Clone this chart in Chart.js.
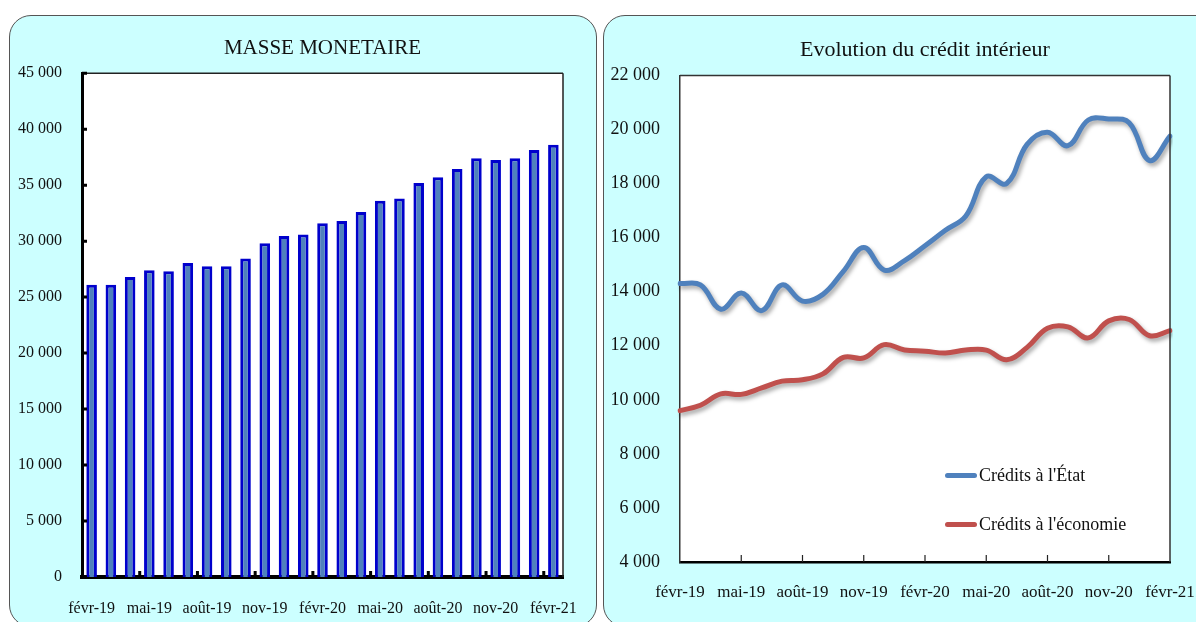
<!DOCTYPE html>
<html>
<head>
<meta charset="utf-8">
<script src="https://cdn.jsdelivr.net/npm/chart.js@4.4.1/dist/chart.umd.min.js"></script>
<style>
body{margin:0;background:#fff;width:1196px;height:622px;overflow:hidden;position:relative;font-family:"Liberation Serif",serif}
.panel{position:absolute;background:#ccffff;border:1px solid #555;border-radius:22px}
#p1{left:9px;top:15px;width:586px;height:610px}
#p2{left:603px;top:15px;width:620px;height:610px}
canvas{position:absolute}
#c1{left:9px;top:15px}
#c2{left:603px;top:15px}
.leg{position:absolute;left:945px;font-size:18px;line-height:22px;color:#111;white-space:nowrap}
.leg i{display:inline-block;width:32px;height:5px;border-radius:3px;vertical-align:middle;margin-right:2px;position:relative;top:-1px}
</style>
</head>
<body>
<div class="panel" id="p1"></div>
<div class="panel" id="p2"></div>
<canvas id="c1" width="588" height="607"></canvas>
<canvas id="c2" width="640" height="607"></canvas>
<div class="leg" style="top:464px"><i style="background:#4f81bd"></i>Crédits à l'État</div>
<div class="leg" style="top:513px"><i style="background:#c0504d"></i>Crédits à l'économie</div>
<script>
const months = ['févr-19','mars-19','avr-19','mai-19','juin-19','juil-19','août-19','sept-19','oct-19','nov-19','déc-19','janv-20',
  'févr-20','mars-20','avr-20','mai-20','juin-20','juil-20','août-20','sept-20','oct-20','nov-20','déc-20','janv-21','févr-21'];

const masseMonetaire = [26100, 26100, 26800, 27400, 27300, 28050, 27750, 27750, 28450, 29800, 30450, 30600,
  31600, 31800, 32600, 33600, 33800, 35200, 35700, 36450, 37400, 37250, 37400, 38150, 38600];

const creditsEtat = [14300, 14250, 13350, 13950, 13300, 14250, 13650, 13900, 14750, 15630, 14800, 15150,
  15700, 16270, 16800, 18250, 18000, 19450, 19900, 19400, 20350, 20390, 20250, 18850, 19750];

const creditsEconomie = [9600, 9800, 10220, 10200, 10440, 10690, 10740, 10960, 11570, 11550, 12040, 11840,
  11800, 11730, 11840, 11840, 11480, 11940, 12650, 12700, 12290, 12920, 12970, 12370, 12560];

Chart.defaults.font.family = '"Liberation Serif", serif';
Chart.defaults.color = '#111';

function fmt(v) {
  return String(v).replace(/\B(?=(\d{3})+(?!\d))/g, ' ');
}
function everyThird(v, i) {
  return i % 3 == 0 ? months[i] : '';
}

// white plot area + thin frame on the given sides
function frame(sides, color) {
  return {
    id: 'frame',
    beforeDraw(chart) {
      const a = chart.chartArea, ctx = chart.ctx;
      ctx.save();
      ctx.fillStyle = '#fff';
      ctx.fillRect(a.left, a.top, a.right - a.left, a.bottom - a.top);
      ctx.restore();
    },
    afterDraw(chart) {
      const a = chart.chartArea, ctx = chart.ctx;
      ctx.save();
      ctx.strokeStyle = color;
      ctx.lineWidth = 1.5;
      ctx.beginPath();
      if (sides.includes('top')) { ctx.moveTo(a.left, a.top); ctx.lineTo(a.right, a.top); }
      if (sides.includes('right')) { ctx.moveTo(a.right, a.top); ctx.lineTo(a.right, a.bottom); }
      ctx.stroke();
      ctx.restore();
    }
  };
}

const barTicks = {
  id: 'barTicks',
  afterDraw(chart) {
    const {ctx, chartArea: a, scales: {x, y}} = chart;
    ctx.save();
    ctx.strokeStyle = '#000';
    ctx.lineWidth = 3;
    ctx.beginPath();
    y.ticks.forEach((t, i) => {
      const py = y.getPixelForTick(i);
      ctx.moveTo(a.left, py); ctx.lineTo(a.left + 5, py);
    });
    for (let i = 3; i < months.length; i += 3) {
      const px = (x.getPixelForTick(i - 1) + x.getPixelForTick(i)) / 2;
      ctx.moveTo(px, a.bottom); ctx.lineTo(px, a.bottom - 6);
    }
    ctx.stroke();
    ctx.restore();
  }
};

const lineTicks = {
  id: 'lineTicks',
  afterDraw(chart) {
    const {ctx, chartArea: a, scales: {x}} = chart;
    ctx.save();
    ctx.strokeStyle = '#222';
    ctx.lineWidth = 1.2;
    ctx.beginPath();
    for (let i = 3; i < months.length - 1; i += 3) {
      const px = x.getPixelForTick(i);
      ctx.moveTo(px, a.bottom); ctx.lineTo(px, a.bottom - 7);
    }
    ctx.stroke();
    ctx.restore();
  }
};

const shadow = {
  id: 'shadow',
  beforeDatasetDraw(chart) {
    const c = chart.ctx;
    c.save();
    c.shadowColor = 'rgba(0,0,0,0.35)';
    c.shadowBlur = 4;
    c.shadowOffsetX = 2;
    c.shadowOffsetY = 3;
  },
  afterDatasetDraw(chart) {
    chart.ctx.restore();
  }
};

new Chart('c1', {
  type: 'bar',
  data: {
    labels: months,
    datasets: [{
      label: 'Masse monétaire',
      data: masseMonetaire,
      backgroundColor: '#4f81bd',
      borderColor: '#0000cc',
      borderWidth: 3,
      barPercentage: 0.55,
      categoryPercentage: 1
    }]
  },
  options: {
    responsive: false,
    animation: false,
    layout: {padding: {left: 0, right: 34, top: 0, bottom: 0}},
    plugins: {
      legend: {display: false},
      tooltip: {enabled: false},
      title: {
        display: true,
        fullSize: false,
        text: 'MASSE MONETAIRE',
        font: {size: 21, weight: 'normal'},
        color: '#111',
        padding: {top: 21, bottom: 12}
      }
    },
    scales: {
      x: {
        z: 1,
        grid: {display: false},
        border: {color: '#000', width: 4},
        ticks: {autoSkip: false, maxRotation: 0, padding: 14, font: {size: 16}, callback: everyThird},
        afterFit(s) { s.height = 45; }
      },
      y: {
        min: 0, max: 45000,
        grid: {display: false},
        border: {color: '#000', width: 3},
        ticks: {stepSize: 5000, padding: 12, font: {size: 16}, callback: fmt},
        afterFit(s) { s.width = 73; }
      }
    }
  },
  plugins: [frame(['top', 'right'], '#222'), barTicks]
});

new Chart('c2', {
  type: 'line',
  data: {
    labels: months,
    datasets: [{
      label: "Crédits à l'État",
      data: creditsEtat,
      borderColor: '#4f81bd',
      borderWidth: 5,
      pointRadius: 0,
      tension: 0.4,
      borderCapStyle: 'round'
    }, {
      label: "Crédits à l'économie",
      data: creditsEconomie,
      borderColor: '#c0504d',
      borderWidth: 5,
      pointRadius: 0,
      tension: 0.4,
      borderCapStyle: 'round'
    }]
  },
  options: {
    responsive: false,
    animation: false,
    layout: {padding: {left: 0, right: 73, top: 0, bottom: 0}},
    plugins: {
      legend: {display: false},
      tooltip: {enabled: false},
      title: {
        display: true,
        fullSize: false,
        text: 'Evolution du crédit intérieur',
        font: {size: 22, weight: 'normal'},
        color: '#111',
        padding: {top: 22, bottom: 12}
      }
    },
    scales: {
      x: {
        z: 1,
        grid: {display: false},
        border: {color: '#000', width: 2.5},
        ticks: {autoSkip: false, maxRotation: 0, padding: 12, font: {size: 17}, callback: everyThird},
        afterFit(s) { s.height = 60; }
      },
      y: {
        min: 4000, max: 22000,
        grid: {display: false},
        border: {color: '#333', width: 1.5},
        ticks: {stepSize: 2000, padding: 12, font: {size: 18}, callback: fmt},
        afterFit(s) { s.width = 77; }
      }
    }
  },
  plugins: [frame(['top', 'right'], '#333'), lineTicks, shadow]
});
</script>
</body>
</html>
